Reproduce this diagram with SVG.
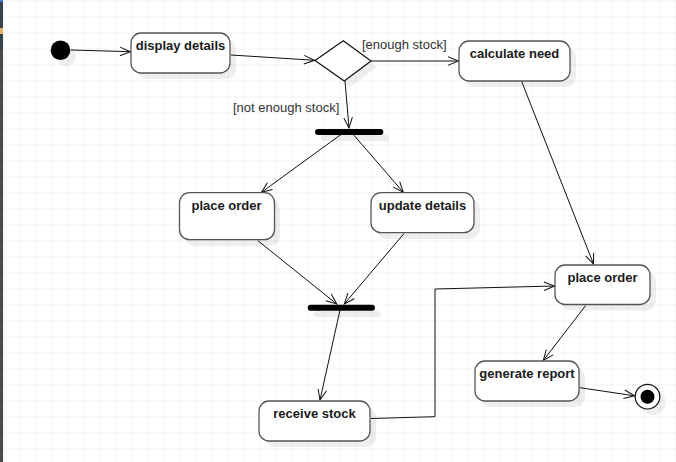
<svg xmlns="http://www.w3.org/2000/svg" width="676" height="462" viewBox="0 0 676 462">
<defs>
<pattern id="grid" x="3.5" y="0.5" width="16" height="16" patternUnits="userSpaceOnUse">
<path d="M0,0 V16 M0,0 H16" fill="none" stroke="#e6e6e6" stroke-width="1"/>
</pattern>
<marker id="arr" viewBox="-12 -6 14 12" refX="0" refY="0" markerWidth="14" markerHeight="12" markerUnits="userSpaceOnUse" orient="auto">
<path d="M-10.5,-4.3 L0,0 L-10.5,4.3" fill="none" stroke="#111" stroke-width="1"/>
</marker>
<style>
.act{fill:#fff;stroke:#555;stroke-width:1.3}
.sh{fill:#000;opacity:0.065}
.lbl{font-family:"Liberation Sans",Arial,sans-serif;font-size:13px;font-weight:bold;fill:#1a1a1a;text-anchor:middle}
.grd{font-family:"Liberation Sans",Arial,sans-serif;font-size:13px;fill:#333}
.cn{fill:none;stroke:#111;stroke-width:1;marker-end:url(#arr)}
.bar{fill:#000}
</style>
</defs>
<rect width="676" height="462" fill="#fff"/>
<rect width="676" height="462" fill="url(#grid)"/>
<rect x="0" y="0" width="3" height="462" fill="#4a4a4a"/>
<rect x="0" y="0" width="3" height="50" fill="#37444b"/>
<rect x="0" y="0" width="3" height="2" fill="#3a7bd5"/>
<rect x="0" y="28" width="3" height="6" fill="#e8b070"/>

<g id="connectors">
<line class="cn" x1="71" y1="50" x2="130.5" y2="51.7"/>
<line class="cn" x1="231" y1="55" x2="314.5" y2="60.3"/>
<line class="cn" x1="371" y1="61" x2="458.5" y2="61"/>
<line class="cn" x1="345" y1="81" x2="349" y2="128"/>
<line class="cn" x1="343" y1="133" x2="261.5" y2="192.3"/>
<line class="cn" x1="352" y1="133" x2="403.3" y2="192.3"/>
<line class="cn" x1="257.7" y1="240.5" x2="336.7" y2="304"/>
<line class="cn" x1="404" y1="233.5" x2="344.3" y2="304"/>
<line class="cn" x1="340" y1="310" x2="320" y2="400"/>
<polyline class="cn" points="371,418.5 435,416.7 435,289 554.5,286"/>
<line class="cn" x1="521.7" y1="81.5" x2="593.5" y2="264"/>
<line class="cn" x1="585.7" y1="305.5" x2="543.3" y2="360.5"/>
<line class="cn" x1="580" y1="387.7" x2="634.5" y2="395.8"/>
<text class="grd" x="362" y="49">[enough stock]</text>
<text class="grd" x="233" y="112">[not enough stock]</text>
</g>

<g id="initial">
<circle cx="66" cy="56" r="10" class="sh"/>
<circle cx="60.5" cy="50.3" r="9.8" fill="#000"/>
</g>

<g id="display-details">
<rect class="sh" x="137" y="39" width="99" height="40" rx="10"/>
<rect class="act" x="131" y="33" width="99" height="40" rx="10"/>
<text class="lbl" x="180.5" y="50">display details</text>
</g>

<g id="decision">
<polygon class="sh" points="321,66 349,47 377,67 350,87"/>
<polygon points="315,60.5 343.3,40.7 371,61 344.3,81" fill="#fff" stroke="#111" stroke-width="1.2"/>
</g>

<g id="calculate-need">
<rect class="sh" x="465" y="47" width="111" height="40" rx="10"/>
<rect class="act" x="459" y="41" width="111" height="40" rx="10"/>
<text class="lbl" x="514.5" y="58">calculate need</text>
</g>

<g id="fork">
<rect class="sh" x="321" y="135" width="68" height="6" rx="3"/>
<rect class="bar" x="315" y="129" width="68.3" height="6" rx="3"/>
</g>

<g id="place-order-1">
<rect class="sh" x="185" y="199" width="95" height="47" rx="10"/>
<rect class="act" x="179.5" y="192.7" width="95" height="47" rx="10"/>
<text class="lbl" x="226.5" y="210">place order</text>
</g>

<g id="update-details">
<rect class="sh" x="377" y="199" width="103" height="40" rx="10"/>
<rect class="act" x="371" y="192.7" width="103" height="40" rx="10"/>
<text class="lbl" x="422.5" y="210">update details</text>
</g>

<g id="join">
<rect class="sh" x="314" y="311" width="67" height="6" rx="3"/>
<rect class="bar" x="307.7" y="304.7" width="67.3" height="6" rx="3"/>
</g>

<g id="receive-stock">
<rect class="sh" x="265" y="407" width="111" height="40" rx="10"/>
<rect class="act" x="259" y="401" width="111" height="40" rx="10"/>
<text class="lbl" x="314.5" y="417.5">receive stock</text>
</g>

<g id="place-order-2">
<rect class="sh" x="561" y="271" width="95" height="39.5" rx="10"/>
<rect class="act" x="555" y="265" width="95" height="39.5" rx="10"/>
<text class="lbl" x="602.5" y="281.5">place order</text>
</g>

<g id="generate-report">
<rect class="sh" x="481" y="367" width="104" height="40" rx="10"/>
<rect class="act" x="475" y="361" width="104" height="40" rx="10"/>
<text class="lbl" x="527" y="378">generate report</text>
</g>

<g id="final">
<circle class="sh" cx="653" cy="402.5" r="12.5"/>
<circle cx="647.5" cy="396.7" r="12.3" fill="#fff" stroke="#111" stroke-width="1.2"/>
<circle cx="647.5" cy="396.7" r="7" fill="#000"/>
</g>
</svg>
